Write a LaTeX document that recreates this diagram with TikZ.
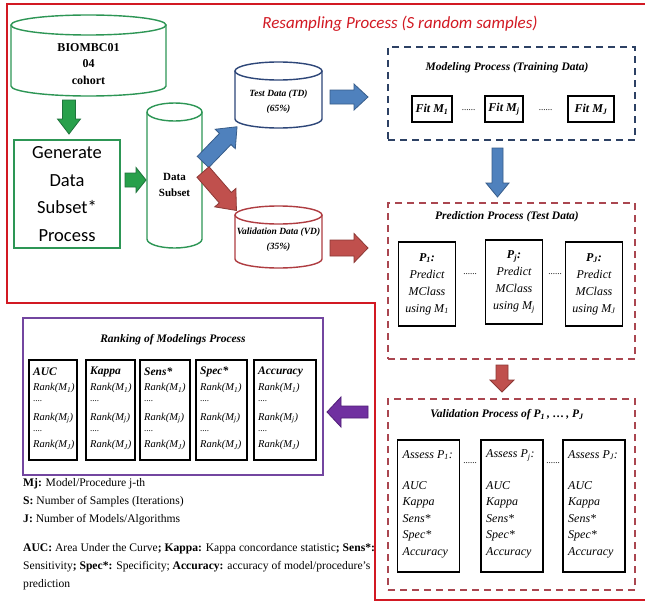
\documentclass[tikz,border=0pt]{standalone}
\usepackage{fontspec}
\setmainfont{Liberation Serif}
\newfontfamily\calibrifont{Carlito}
\usetikzlibrary{calc}
\definecolor{bordred}{RGB}{210,25,35}
\definecolor{cylgreen}{RGB}{45,150,85}
\definecolor{cylblue}{RGB}{45,70,120}
\definecolor{cylred}{RGB}{175,60,65}
\definecolor{dashblue}{RGB}{45,65,100}
\definecolor{dashred}{RGB}{170,70,80}
\definecolor{purpline}{RGB}{115,70,160}
\definecolor{agfill}{RGB}{40,160,75}
\definecolor{agdraw}{RGB}{30,115,60}
\definecolor{abfill}{RGB}{79,129,189}
\definecolor{abdraw}{RGB}{56,93,138}
\definecolor{arfill}{RGB}{192,80,77}
\definecolor{ardraw}{RGB}{140,56,53}
\definecolor{apfill}{RGB}{112,48,160}
\definecolor{apdraw}{RGB}{80,30,120}
\tikzset{
  cylline/.style={line width=1.4pt, fill=white},
  dbox/.style={draw, line width=1.4pt, dash pattern=on 7pt off 5pt, inner sep=0pt},
  kbox/.style={draw=black, line width=1.4pt, fill=white, inner sep=0pt},
  ttl/.style={font=\fontsize{11.5}{13}\selectfont\bfseries\itshape},
  ptxt/.style={font=\fontsize{12}{17}\selectfont\itshape, align=center},
  atxt/.style={font=\fontsize{12}{16.5}\selectfont\itshape, anchor=west},
  rtxt/.style={font=\fontsize{10.5}{12}\selectfont\itshape, anchor=west},
  legtxt/.style={font=\fontsize{11.6}{14}\selectfont, anchor=west},
  dots/.style={font=\fontsize{9}{10}\selectfont},
}
% #1 fill, #2 draw, #3 tail point, #4 angle, #5 length, #6 shaft half, #7 head half, #8 head length
\newcommand\fatarrow[8]{%
  \begin{scope}[shift={#3}, rotate=#4]
    \filldraw[fill=#1, draw=#2, line width=0.8pt, line join=miter]
      (0,-#6) -- ({#5-#8},-#6) -- ({#5-#8},-#7) -- (#5,0) -- ({#5-#8},#7)
      -- ({#5-#8},#6) -- (0,#6) -- cycle;
  \end{scope}}
% rank column: #1 name, #2 x left, #3 x right, #4 header
\newcommand\rankcol[4]{%
  \node[kbox, minimum width={#3-#2}, minimum height=100] (#1) at ({(#2+#3)/2},410) {};
  \node[font=\fontsize{11.5}{12}\selectfont\bfseries\itshape, anchor=west] (#1h) at (#2+4,372) {#4};
  \node[rtxt] (#1a) at (#2+4,388) {Rank(M\textsubscript{1})};
  \node[dots, anchor=west] (#1b) at (#2+4,401) {....};
  \node[rtxt] (#1c) at (#2+4,418) {Rank(M\textsubscript{j})};
  \node[dots, anchor=west] (#1d) at (#2+4,431) {....};
  \node[rtxt] (#1e) at (#2+4,445) {Rank(M\textsubscript{J})};}
% assess column: #1 name, #2 center x, #3 subscript
\newcommand\assesscol[3]{%
  \node[kbox, minimum width=62, minimum height=132] (#1) at (#2,506) {};
  \node[atxt] (#1h) at (#2-26,455) {Assess P\textsubscript{#3}:};
  \node[atxt, align=left, anchor=north west] (#1l) at (#2-26,481) {AUC\\Kappa\\Sens*\\Spec*\\Accuracy};}
% predict column: #1 name, #2 center x, #3 center y, #4 subscript
\newcommand\predcol[4]{%
  \node[kbox, minimum width=57, minimum height=84] (#1) at (#2,#3) {};
  \node[ptxt] (#1t) at (#2,#3) {\textbf{P\textsubscript{#4}:}\\Predict\\MClass\\using M\textsubscript{#4}};}
\begin{document}
\begin{tikzpicture}[x=1pt,y=-1pt, every node/.style={inner sep=0pt}]
\useasboundingbox (0,0) rectangle (645,602);
\fill[white] (0,0) rectangle (645,602);

% outer red border
\draw[bordred, line width=2.8pt] (7,4) -- (646,4) -- (646,600) -- (375,600) -- (375,303) -- (7,303) -- cycle;
\node[font=\calibrifont\itshape\fontsize{17}{20}\selectfont, text=bordred] (title) at (400,24) {Resampling Process (S random samples)};

% cylinders
\draw[cylline, draw=cylgreen] (11,25) -- (11,86) arc[start angle=180, end angle=0, x radius=77.5, y radius=10] -- (166,25);
\draw[cylline, draw=cylgreen] (88.5,25) ellipse[x radius=77.5, y radius=10];
\node[font=\fontsize{12}{16.5}\selectfont\bfseries, align=center] (biom) at (88.5,64) {BIOMBC01\\04\\cohort};

\draw[cylline, draw=cylgreen] (147,112) -- (147,239) arc[start angle=180, end angle=0, x radius=27.5, y radius=9] -- (202,112);
\draw[cylline, draw=cylgreen] (174.5,112) ellipse[x radius=27.5, y radius=9];
\node[font=\fontsize{11}{16}\selectfont\bfseries, align=center] (subset) at (174.5,185) {Data\\Subset};

\draw[cylline, draw=cylblue] (235,71) -- (235,119) arc[start angle=180, end angle=0, x radius=43.5, y radius=9] -- (322,71);
\draw[cylline, draw=cylblue] (278.5,71) ellipse[x radius=43.5, y radius=9];
\node[font=\fontsize{9.5}{15}\selectfont\bfseries\itshape, align=center] (test) at (278.5,102) {Test Data (TD)\\(65\%)};

\draw[cylline, draw=cylred] (235,215) -- (235,259) arc[start angle=180, end angle=0, x radius=43.5, y radius=9] -- (322,215);
\draw[cylline, draw=cylred] (278.5,215) ellipse[x radius=43.5, y radius=9];
\node[font=\fontsize{9.5}{15}\selectfont\bfseries\itshape, align=center] (valid) at (278.5,240) {Validation Data (VD)\\(35\%)};

% generate box
\node[draw=cylgreen, line width=1.6pt, minimum width=106, minimum height=108,
      font=\calibrifont\fontsize{18.5}{27.5}\selectfont, align=center] (gen) at (67,194) {Generate\\Data\\Subset*\\Process};

% modeling process
\node[dbox, draw=dashblue, minimum width=247, minimum height=93] (modbox) at (511.5,93.5) {};
\node[ttl] (modttl) at (507,68) {Modeling Process (Training Data)};
\node[kbox, minimum width=40, minimum height=26, font=\fontsize{12}{13}\selectfont\bfseries\itshape] (fit1) at (432,109) {Fit M\textsubscript{1}};
\node[kbox, minimum width=38, minimum height=26, font=\fontsize{12}{13}\selectfont\bfseries\itshape] (fitj) at (504,109) {Fit M\textsubscript{j}};
\node[kbox, minimum width=46, minimum height=26, font=\fontsize{12}{13}\selectfont\bfseries\itshape] (fitJ) at (591,109) {Fit M\textsubscript{J}};
\node[dots] (fd1) at (468.5,110) {......};
\node[dots] (fd2) at (545.5,110) {......};

% prediction process
\node[dbox, draw=dashred, minimum width=247, minimum height=156] (predbox) at (511.5,281) {};
\node[ttl] (predttl) at (507,217) {Prediction Process (Test Data)};
\predcol{p1}{427}{284}{1}
\predcol{pj}{514}{282}{j}
\predcol{pJ}{594}{284}{J}
\node[dots] (pd1) at (470,274) {......};
\node[dots] (pd2) at (555,274) {......};

% validation process
\node[dbox, draw=dashred, minimum width=247, minimum height=191] (valbox) at (511.5,494.5) {};
\node[ttl] (valttl) at (507,415) {Validation Process of P\textsubscript{1}\,, \dots\,, P\textsubscript{J}};
\assesscol{a1}{428.5}{1}
\assesscol{aj}{512}{j}
\assesscol{aJ}{594}{J}
\node[dots] (ad1) at (470,463) {......};
\node[dots] (ad2) at (553,463) {......};

% ranking
\node[draw=purpline, line width=1.4pt, minimum width=300, minimum height=157] (rankbox) at (173,396.5) {};
\node[ttl] (rankttl) at (173,340) {Ranking of Modelings Process};
\rankcol{rauc}{29}{77}{AUC}
\rankcol{rkap}{86}{135}{Kappa}
\rankcol{rsen}{140}{190}{Sens*}
\rankcol{rspe}{196}{247}{Spec*}
\rankcol{racc}{254}{316}{Accuracy}

% legend
\node[legtxt] (l1) at (23,484) {\textbf{Mj:} Model/Procedure j-th};
\node[legtxt] (l2) at (23,502) {\textbf{S:} Number of Samples (Iterations)};
\node[legtxt] (l3) at (23,520) {\textbf{J:} Number of Models/Algorithms};
\node[legtxt] (l4) at (23,549) {\textbf{AUC:} Area Under the Curve\textbf{; Kappa:} Kappa concordance statistic\textbf{; Sens*:}};
\node[legtxt] (l5) at (23,567) {Sensitivity\textbf{; Spec*:} Specificity; \textbf{Accuracy:} accuracy of model/procedure’s};
\node[legtxt] (l6) at (23,585) {prediction};

% block arrows
\fatarrow{agfill}{agdraw}{(69,100)}{-90}{34}{6.5}{11.5}{15}
\fatarrow{agfill}{agdraw}{(125,180)}{0}{21}{7}{12.5}{10}
\fatarrow{abfill}{abdraw}{(203,162)}{46}{49}{8}{14}{17}
\fatarrow{arfill}{ardraw}{(203,172)}{-49}{51}{8}{14}{17}
\fatarrow{abfill}{abdraw}{(330,97)}{0}{38}{7}{13}{14}
\fatarrow{abfill}{abdraw}{(497.5,148)}{-90}{49}{5.5}{11.5}{14}
\fatarrow{arfill}{ardraw}{(330,248)}{0}{38}{8}{14.5}{14}
\fatarrow{arfill}{ardraw}{(502,365)}{-90}{27}{6}{12}{12}
\fatarrow{apfill}{apdraw}{(368,412)}{180}{41}{6}{15}{14}
\end{tikzpicture}
\end{document}
